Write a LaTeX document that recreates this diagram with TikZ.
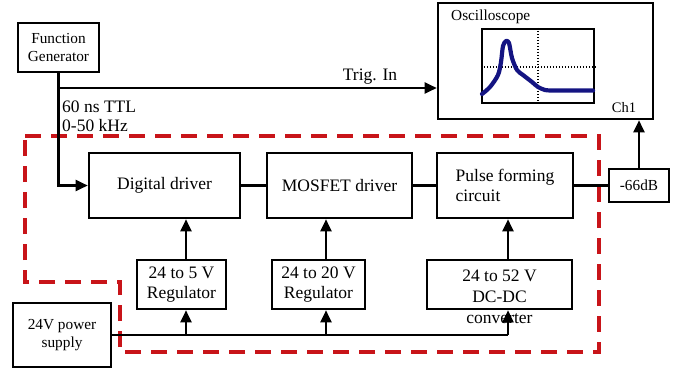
\documentclass[tikz,border=0pt]{standalone}
\usepackage{fontspec}
\setmainfont{Liberation Serif}
\usetikzlibrary{arrows.meta}
\definecolor{dashred}{RGB}{200,20,25}
\definecolor{trace}{RGB}{20,20,130}
\begin{document}
\begin{tikzpicture}[x=1pt,y=-1pt,
  blk/.style={draw, line width=2.6pt, inner sep=0pt, align=center,
    font=\fontsize{17.5}{19.5}\selectfont},
  smallblk/.style={blk, font=\fontsize{15.3}{17.5}\selectfont},
  wire/.style={line width=2.3pt},
  arr/.style={wire, -{Triangle[length=12pt,width=11pt]}},
  txt/.style={inner sep=0pt, font=\fontsize{17.5}{19.5}\selectfont},
  stxt/.style={inner sep=0pt, font=\fontsize{15.3}{17.5}\selectfont}]
\useasboundingbox (0,0) rectangle (682,375);

% shielded enclosure
\draw[dashred, line width=4.2pt, dash pattern=on 16pt off 10pt]
  (25,136) -- (599,136) -- (599,352) -- (120,352) -- (120,282) -- (25,282) -- cycle;

% blocks
\node[smallblk, minimum width=81pt, minimum height=49pt] (fg) at (58.5,47.5) {Function\\Generator};
\node[blk, minimum width=215pt, minimum height=116pt] (osc) at (545.5,61) {};
\node[blk, minimum width=151pt, minimum height=65pt] (dd) at (164.5,185.5) {Digital driver};
\node[blk, minimum width=145pt, minimum height=65pt] (md) at (339.5,185.5) {MOSFET driver};
\node[blk, align=left, minimum width=136pt, minimum height=65pt] (pf) at (505,185.5) {Pulse forming\\circuit};
\node[smallblk, minimum width=60pt, minimum height=33pt] (att) at (639,185.5) {-66dB};
\node[blk, minimum width=89pt, minimum height=49pt] (reg5) at (181.5,284.5) {24 to 5 V\\Regulator};
\node[blk, minimum width=93pt, minimum height=49pt] (reg20) at (318.5,284.5) {24 to 20 V\\Regulator};
\node[blk, minimum width=145pt, minimum height=49pt] (dcdc) at (499.5,284.5) {};
\node[txt, align=center, font=\fontsize{17.5}{21}\selectfont] (dcdctxt) at (499.5,297) {24 to 52 V\\DC-DC\\converter};
\node[smallblk, minimum width=98pt, minimum height=64pt] (ps) at (62,335) {24V power\\supply};

% oscilloscope screen
\node[stxt, anchor=west] (osclbl) at (451,17) {Oscilloscope};
\node[stxt, font=\fontsize{14.5}{17}\selectfont] (ch1) at (624,108) {Ch1};
\node[draw, line width=2.2pt, minimum width=112pt, minimum height=74pt, inner sep=0pt] (scr) at (538,66) {};
\draw[line width=1.6pt, dash pattern=on 1.5pt off 1.5pt] (scr.north -| 538,0) -- (scr.south -| 538,0);
\draw[line width=1.6pt, dash pattern=on 1.5pt off 1.5pt] (scr.west |- 0,67) -- (scr.east |- 0,67);
\draw[trace, line width=4.2pt, line join=round, line cap=round]
  plot[smooth, tension=0.5] coordinates {(482,94) (490,87) (498,75) (501,62) (503,46) (506,41) (509,43) (512,58) (517,70) (523,75) (532,82) (538,87) (545,90) (552,90.5)}
  -- (593,90.5);

% signal path
\coordinate (trig) at (fg.south |- 0,88);
\draw[wire] (fg.south) -- (trig);
\draw[arr] (trig) |- (dd.west);
\draw[arr] (trig) -- (trig -| osc.west);
\node[txt] (triglbl) at (370,77) {Trig. In};
\node[txt, anchor=west, align=left] (ttl) at (62,116.5) {60 ns TTL\\0-50 kHz};
\draw[wire] (dd.east) -- (md.west);
\draw[wire] (md.east) -- (pf.west);
\draw[wire] (pf.east) -- (att.west);
\draw[arr] (att.north) -- (att.north |- osc.south);

% power distribution
\coordinate (t5) at (186,335);
\coordinate (t20) at (326,335);
\coordinate (t52) at (508,335);
\draw[wire] (ps.east) -- (t52);
\draw[arr] (t5) -- (t5 |- reg5.south);
\draw[arr] (t20) -- (t20 |- reg20.south);
\draw[arr] (t52) -- (t52 |- dcdc.south);
\draw[arr] (t5 |- reg5.north) -- (t5 |- dd.south);
\draw[arr] (t20 |- reg20.north) -- (t20 |- md.south);
\draw[arr] (t52 |- dcdc.north) -- (t52 |- pf.south);
\end{tikzpicture}
\end{document}
